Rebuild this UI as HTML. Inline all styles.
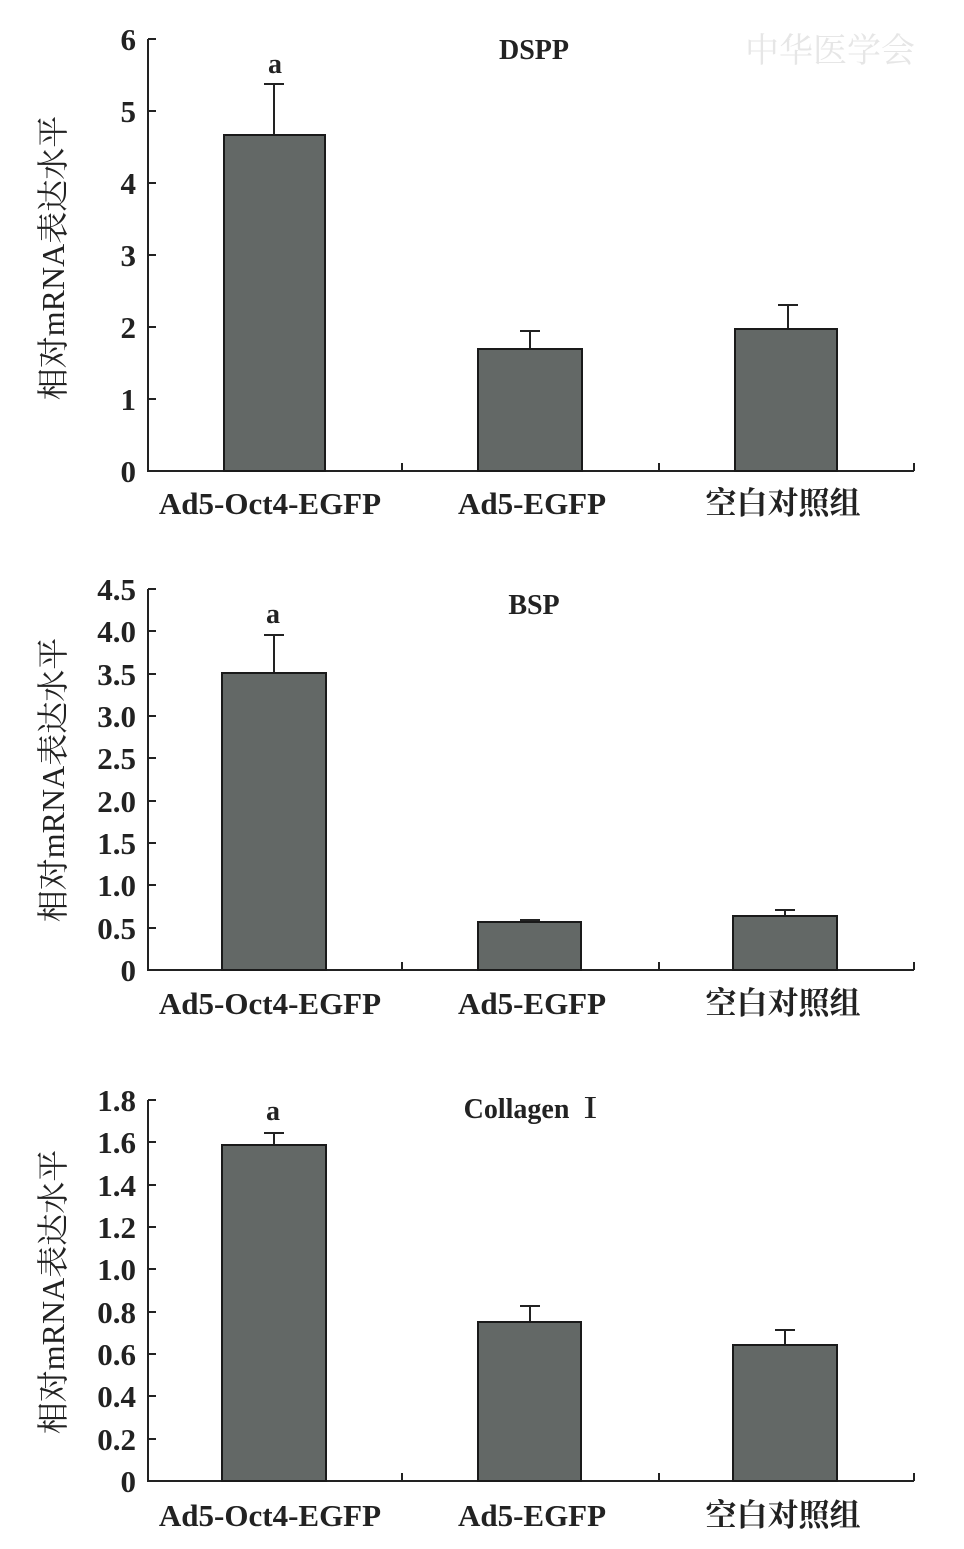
<!DOCTYPE html>
<html><head><meta charset="utf-8"><style>
body{margin:0;background:#fff}
svg text{font-family:"Liberation Serif","Noto Serif CJK SC",serif;fill:#222}
</style></head><body>
<svg width="964" height="1544" viewBox="0 0 964 1544" xmlns="http://www.w3.org/2000/svg">
<g stroke="#222" stroke-width="2" fill="none">
<path d="M148 39V471H914"/>
<path d="M148 39h8M148 111h8M148 183h8M148 255h8M148 327h8M148 399h8"/>
<path d="M402 471v-8M659 471v-8M914 471v-8"/>
<path d="M148 589V970H914"/>
<path d="M148 589h8M148 631h8M148 674h8M148 716h8M148 758h8M148 801h8M148 843h8M148 885h8M148 928h8"/>
<path d="M402 970v-8M659 970v-8M914 970v-8"/>
<path d="M148 1100V1481H914"/>
<path d="M148 1100h8M148 1142h8M148 1185h8M148 1227h8M148 1269h8M148 1312h8M148 1354h8M148 1396h8M148 1439h8"/>
<path d="M402 1481v-8M659 1481v-8M914 1481v-8"/>
<path d="M274 135V84M264 84h20M530 349V331M520 331h20M788 329V305M778 305h20"/>
<path d="M274 673V635M264 635h20M530 922V920M520 920h20M785 916V910M775 910h20"/>
<path d="M274 1145V1133M264 1133h20M530 1322V1306M520 1306h20M785 1345V1330M775 1330h20"/>
</g>
<g fill="#636866" stroke="#1a1a1a" stroke-width="2">
<rect x="224" y="135" width="101" height="336"/>
<rect x="478" y="349" width="104" height="122"/>
<rect x="735" y="329" width="102" height="142"/>
<rect x="222" y="673" width="104" height="297"/>
<rect x="478" y="922" width="103" height="48"/>
<rect x="733" y="916" width="104" height="54"/>
<rect x="222" y="1145" width="104" height="336"/>
<rect x="478" y="1322" width="103" height="159"/>
<rect x="733" y="1345" width="104" height="136"/>
</g>
<g font-size="31" font-weight="bold" text-anchor="end">
<text x="136" y="50">6</text><text x="136" y="122">5</text><text x="136" y="194">4</text><text x="136" y="266">3</text><text x="136" y="338">2</text><text x="136" y="410">1</text><text x="136" y="482">0</text>
<text x="136" y="600">4.5</text><text x="136" y="642">4.0</text><text x="136" y="685">3.5</text><text x="136" y="727">3.0</text><text x="136" y="769">2.5</text><text x="136" y="812">2.0</text><text x="136" y="854">1.5</text><text x="136" y="896">1.0</text><text x="136" y="939">0.5</text><text x="136" y="981">0</text>
<text x="136" y="1111">1.8</text><text x="136" y="1153">1.6</text><text x="136" y="1196">1.4</text><text x="136" y="1238">1.2</text><text x="136" y="1280">1.0</text><text x="136" y="1323">0.8</text><text x="136" y="1365">0.6</text><text x="136" y="1407">0.4</text><text x="136" y="1450">0.2</text><text x="136" y="1492">0</text>
</g>
<g font-size="31" font-weight="bold" text-anchor="middle">
<text x="270" y="514">Ad5-Oct4-EGFP</text><text x="532" y="514">Ad5-EGFP</text><text x="783" y="514">空白对照组</text>
<text x="270" y="1014">Ad5-Oct4-EGFP</text><text x="532" y="1014">Ad5-EGFP</text><text x="783" y="1014">空白对照组</text>
<text x="270" y="1526">Ad5-Oct4-EGFP</text><text x="532" y="1526">Ad5-EGFP</text><text x="783" y="1526">空白对照组</text>
</g>
<g font-size="28" font-weight="bold" text-anchor="middle">
<text x="534" y="59">DSPP</text><text x="534" y="614">BSP</text><text x="534" y="1118">Collagen Ⅰ</text>
<text x="275" y="73">a</text><text x="273" y="623">a</text><text x="273" y="1120">a</text>
</g>
<g font-size="32" text-anchor="middle">
<text transform="translate(64 258) rotate(-90)">相对mRNA表达水平</text>
<text transform="translate(64 780) rotate(-90)">相对mRNA表达水平</text>
<text transform="translate(64 1292) rotate(-90)">相对mRNA表达水平</text>
</g>
<text x="830" y="62" font-size="34" style="fill:#e6e6e6" text-anchor="middle">中华医学会</text>
</svg>
</body></html>
